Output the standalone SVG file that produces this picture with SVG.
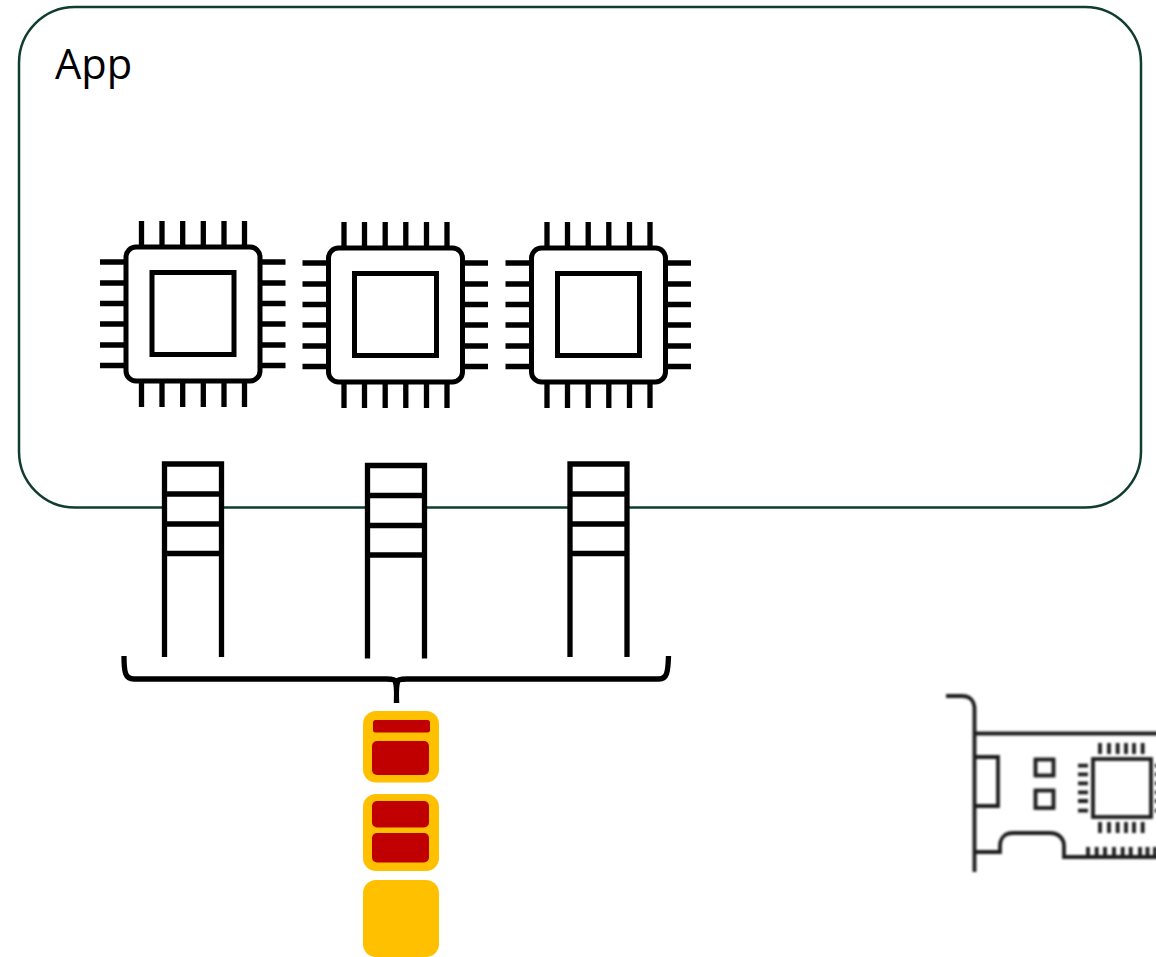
<svg xmlns="http://www.w3.org/2000/svg" width="1156" height="957" viewBox="0 0 1156 957">
<style>
.k{fill:none;stroke:#000;stroke-width:5}
.t{stroke:#000;stroke-width:5.300;fill:none}
.y{fill:#ffc000}
.r{fill:#c00000}
.n{fill:none;stroke:#1f1f1f;stroke-width:3.800}
.p{fill:none;stroke:#1f1f1f;stroke-width:3.800}
text{font-family:"Open Sans","Noto Sans",sans-serif;font-size:41.600px;fill:#000}
</style>
<defs>
<g id="chip">
<rect class="k" x="126" y="247" width="134" height="134" rx="10"/>
<rect class="k" x="152" y="272.500" width="82" height="82"/>
<path class="t" d="M141.500 221V246M162 221V246M182.700 221V246M203.300 221V246M224 221V246M244.500 221V246M141.500 382V407M162 382V407M182.700 382V407M203.300 382V407M224 382V407M244.500 382V407M100 262H125M100 283H125M100 303.500H125M100 324H125M100 345H125M100 365.500H125M261 262H285.500M261 283H285.500M261 303.500H285.500M261 324H285.500M261 345H285.500M261 365.500H285.500"/>
</g>
<g id="ladder">
<rect x="164.500" y="464" width="57" height="89.500" fill="#fff"/>
<path class="t" d="M164.500 657V464H221.500V657M164.500 494H221.500M164.500 524H221.500M164.500 553.500H221.500"/>
</g>
<filter id="soft" x="-5%" y="-5%" width="110%" height="110%"><feGaussianBlur stdDeviation="0.800"/></filter>
</defs>
<g id="app">
<rect x="19" y="7" width="1122" height="500.500" rx="56" fill="#fff" stroke="#0f3d2e" stroke-width="2.500"/>
<text x="55" y="78.500">App</text>
</g>
<g id="cpu1"><use href="#chip"/></g>
<g id="cpu2"><use href="#chip" x="202.500" y="1"/></g>
<g id="cpu3"><use href="#chip" x="405.500" y="1"/></g>
<g id="queue1"><use href="#ladder"/></g>
<g id="queue2"><use href="#ladder" x="203" y="1.500"/></g>
<g id="queue3"><use href="#ladder" x="405.500"/></g>
<g id="connectors">
<path class="t" d="M124 656C124 672 125 679 134 679H386C393 679 396 680 396.500 682C397 680 400 679 407 679H659C667 679 668 672 668.500 656"/>
<path d="M392 680C394.500 686 394 694 393.800 703H399.300C399.100 694 398.500 686 401 680Z" fill="#000"/>
</g>
<g id="packet1">
<rect class="y" x="363" y="711" width="76" height="71.500" rx="13"/>
<rect class="r" x="373" y="720" width="57" height="12.500" rx="2.500"/>
<rect class="r" x="372" y="741" width="57" height="34" rx="5"/>
</g>
<g id="packet2">
<rect class="y" x="363" y="794" width="76" height="77" rx="13"/>
<rect class="r" x="372" y="801" width="57" height="26.500" rx="5"/>
<rect class="r" x="372" y="833" width="57" height="29.500" rx="5"/>
</g>
<g id="packet3">
<rect class="y" x="363" y="880" width="76" height="77" rx="13"/>
</g>
<g id="nic" filter="url(#soft)">
<path class="n" d="M946 696H962C970 696 974.500 701 974.500 709V872"/>
<path class="n" d="M974.500 733.500H1158"/>
<path class="n" d="M974.500 757H998V806H974.500"/>
<rect class="n" x="1035.500" y="759.500" width="18" height="16"/>
<rect class="n" x="1035.500" y="790.500" width="18" height="17.500"/>
<rect class="n" x="1093" y="759" width="58" height="58"/>
<path class="p" d="M1100 743V754M1109 743V754M1117.700 743V754M1126 743V754M1134 743V754M1142.700 743V754M1100 822V833M1109 822V833M1117.700 822V833M1126 822V833M1134 822V833M1142.700 822V833M1078 765.700H1088M1078 774.300H1088M1078 783.300H1088M1078 792.300H1088M1078 801H1088M1078 810.700H1088M1155 765.700H1158M1155 774.300H1158M1155 783.300H1158M1155 792.300H1158M1155 801H1158M1155 810.700H1158"/>
<path class="n" d="M974.500 852H1000V846C1000 838 1005 833 1013 833H1050C1058 833 1064 838 1064 846V857H1158"/>
<path class="p" d="M1088 847V857M1096.700 847V857M1105 847V857M1114 847V857M1122.700 847V857M1130.700 847V857M1140 847V857M1147.500 847V857M1155 847V857"/>
</g>
</svg>
